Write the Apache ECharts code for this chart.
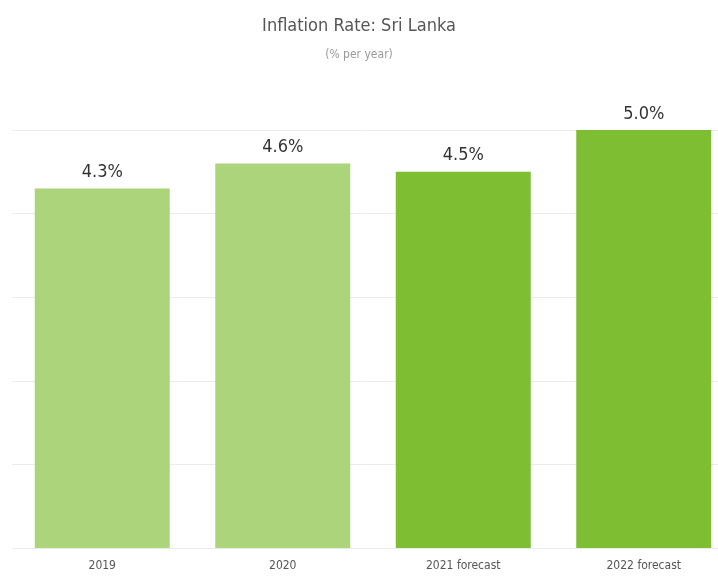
<!DOCTYPE html>
<html>
<head>
<meta charset="utf-8">
<script src="https://cdn.jsdelivr.net/npm/echarts@6/dist/echarts.min.js"></script>
<style>
  html, body { margin: 0; padding: 0; background: #fff; }
  #chart { width: 718px; height: 577px; }
</style>
</head>
<body>
<div id="chart"></div>
<script>
// data
const categories = ['2019', '2020', '2021 forecast', '2022 forecast'];
const inflation = [4.3, 4.6, 4.5, 5.0];

const FONT = "'Liberation Sans Narrow', 'DejaVu Sans Condensed', 'Liberation Sans', Arial, sans-serif";

const chart = echarts.init(document.getElementById('chart'));

chart.setOption({
  animation: false,
  title: {
    text: 'Inflation Rate: Sri Lanka',
    subtext: '(% per year)',
    left: 'center',
    top: 12,
    itemGap: 14,
    textStyle: { fontFamily: FONT, fontSize: 18, fontWeight: 'normal', color: '#555' },
    subtextStyle: { fontFamily: FONT, fontSize: 12, color: '#999' }
  },
  grid: { left: 12, width: 722, top: 130, bottom: 29, outerBoundsMode: 'none' },
  xAxis: {
    type: 'category',
    data: categories,
    axisLine: { show: false },
    axisTick: { show: false },
    axisLabel: { fontFamily: FONT, fontSize: 12, color: '#555', margin: 12 }
  },
  yAxis: {
    type: 'value',
    min: 0,
    max: 5,
    interval: 1,
    axisLabel: { show: false },
    axisLine: { show: false },
    axisTick: { show: false },
    splitLine: { lineStyle: { color: '#ebebeb', width: 1 } }
  },
  series: [{
    type: 'bar',
    data: inflation,
    barWidth: 135,
    itemStyle: {
      color: function (p) {
        return categories[p.dataIndex].indexOf('forecast') >= 0 ? '#7dbe33' : '#acd57b';
      }
    },
    label: {
      show: true,
      position: 'top',
      distance: 7,
      fontFamily: FONT,
      fontSize: 18,
      color: '#333',
      formatter: function (p) { return p.value.toFixed(1) + '%'; }
    }
  }]
});
</script>
</body>
</html>
